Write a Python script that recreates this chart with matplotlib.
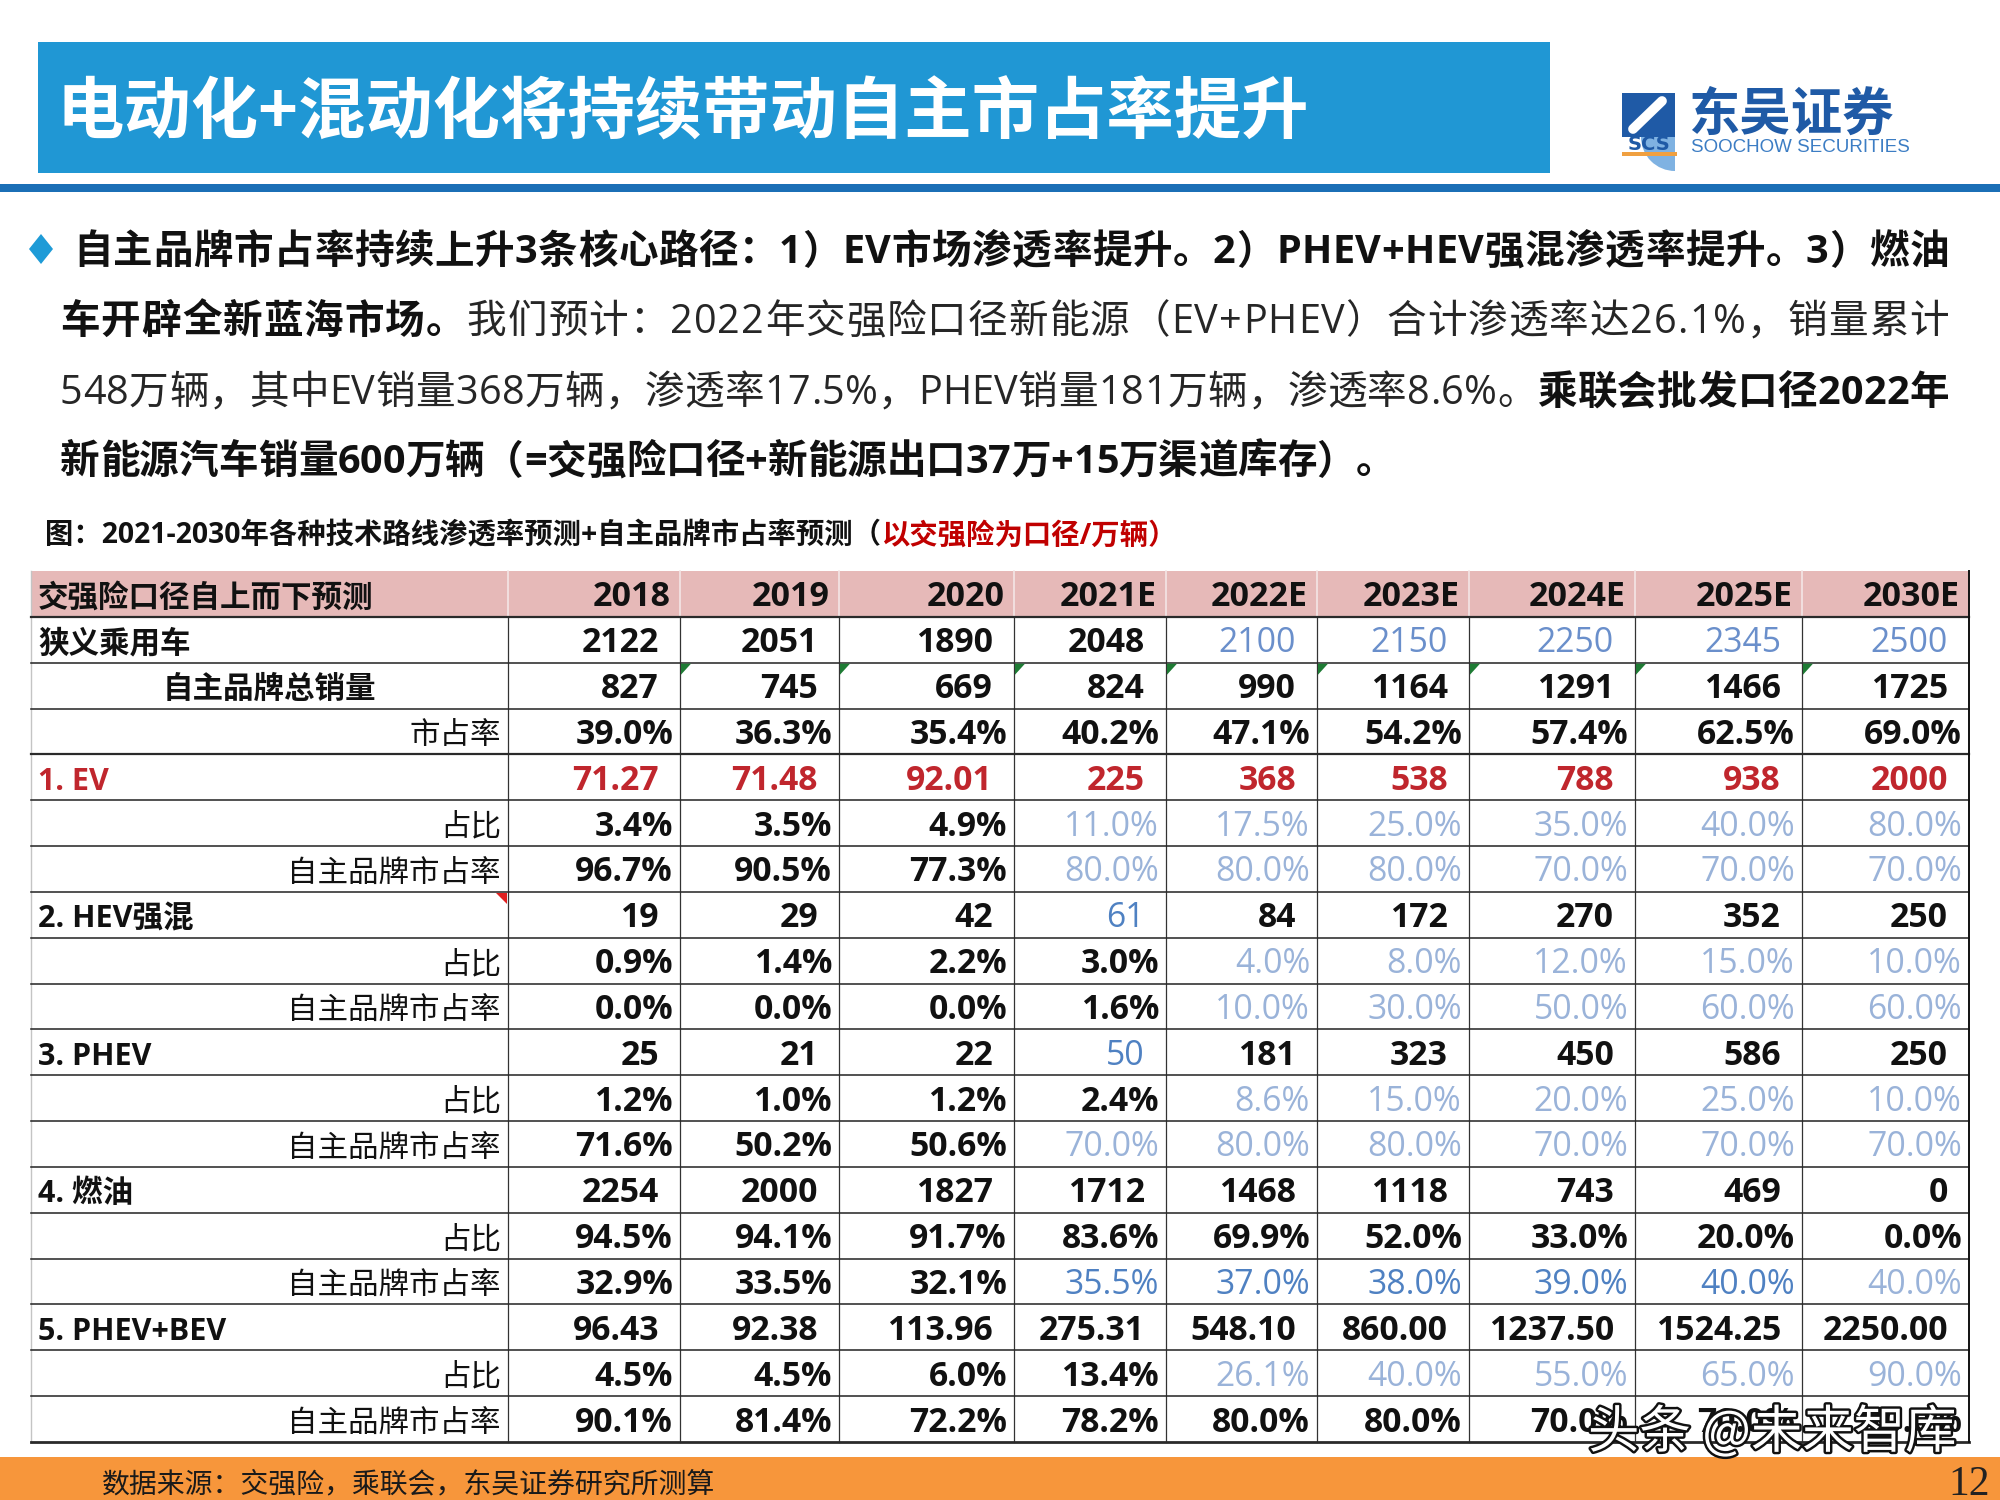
import matplotlib
matplotlib.use('Agg')
import matplotlib.pyplot as plt
from matplotlib.patches import Rectangle, Polygon, Wedge
from matplotlib.font_manager import FontProperties
import matplotlib.patheffects as pe

# ---------------- text content ----------------
title = "电动化+混动化将持续带动自主市占率提升"
caption_black = "图：2021-2030年各种技术路线渗透率预测+自主品牌市占率预测（"
caption_red = "以交强险为口径/万辆）"
source_note = "数据来源：交强险，乘联会，东吴证券研究所测算"
page_number = "12"
watermark = "头条 @未来智库"
logo_cn = "东吴证券"
logo_en = "SOOCHOW SECURITIES"
logo_abbr = "SCS"

body_lines = [
    [("自主品牌市占率持续上升3条核心路径：1）EV市场渗透率提升。2）PHEV+HEV强混渗透率提升。3）燃油", "bold")],
    [("车开辟全新蓝海市场。", "bold"),
     ("我们预计：2022年交强险口径新能源（EV+PHEV）合计渗透率达26.1%，销量累计", "normal")],
    [("548万辆，其中EV销量368万辆，渗透率17.5%，PHEV销量181万辆，渗透率8.6%。", "normal"),
     ("乘联会批发口径2022年", "bold")],
    [("新能源汽车销量600万辆（=交强险口径+新能源出口37万+15万渠道库存）。", "bold")],
]

# ---------------- table data ----------------
header_label = "交强险口径自上而下预测"
years = ["2018", "2019", "2020", "2021E", "2022E", "2023E", "2024E", "2025E", "2030E"]
row_labels = ["狭义乘用车", "自主品牌总销量", "市占率",
              "1. EV", "占比", "自主品牌市占率",
              "2. HEV强混", "占比", "自主品牌市占率",
              "3. PHEV", "占比", "自主品牌市占率",
              "4. 燃油", "占比", "自主品牌市占率",
              "5. PHEV+BEV", "占比", "自主品牌市占率"]

passenger_cars = [2122, 2051, 1890, 2048, 2100, 2150, 2250, 2345, 2500]
own_brand_sales = [827, 745, 669, 824, 990, 1164, 1291, 1466, 1725]
own_brand_share = [39.0, 36.3, 35.4, 40.2, 47.1, 54.2, 57.4, 62.5, 69.0]
ev_sales = [71.27, 71.48, 92.01, 225, 368, 538, 788, 938, 2000]
ev_share = [3.4, 3.5, 4.9, 11.0, 17.5, 25.0, 35.0, 40.0, 80.0]
ev_own_share = [96.7, 90.5, 77.3, 80.0, 80.0, 80.0, 70.0, 70.0, 70.0]
hev_sales = [19, 29, 42, 61, 84, 172, 270, 352, 250]
hev_share = [0.9, 1.4, 2.2, 3.0, 4.0, 8.0, 12.0, 15.0, 10.0]
hev_own_share = [0.0, 0.0, 0.0, 1.6, 10.0, 30.0, 50.0, 60.0, 60.0]
phev_sales = [25, 21, 22, 50, 181, 323, 450, 586, 250]
phev_share = [1.2, 1.0, 1.2, 2.4, 8.6, 15.0, 20.0, 25.0, 10.0]
phev_own_share = [71.6, 50.2, 50.6, 70.0, 80.0, 80.0, 70.0, 70.0, 70.0]
ice_sales = [2254, 2000, 1827, 1712, 1468, 1118, 743, 469, 0]
ice_share = [94.5, 94.1, 91.7, 83.6, 69.9, 52.0, 33.0, 20.0, 0.0]
ice_own_share = [32.9, 33.5, 32.1, 35.5, 37.0, 38.0, 39.0, 40.0, 40.0]
nev_sales = [96.43, 92.38, 113.96, 275.31, 548.10, 860.00, 1237.50, 1524.25, 2250.00]
nev_share = [4.5, 4.5, 6.0, 13.4, 26.1, 40.0, 55.0, 65.0, 90.0]
nev_own_share = [90.1, 81.4, 72.2, 78.2, 80.0, 80.0, 70.0, 70.0, 70.0]

table_rows = [passenger_cars, own_brand_sales, own_brand_share,
              ev_sales, ev_share, ev_own_share,
              hev_sales, hev_share, hev_own_share,
              phev_sales, phev_share, phev_own_share,
              ice_sales, ice_share, ice_own_share,
              nev_sales, nev_share, nev_own_share]

# ---------------- styles ----------------
row_formats = ["int", "int", "pct", "g", "pct", "pct", "int", "pct", "pct",
               "int", "pct", "pct", "int", "pct", "pct", "dec2", "pct", "pct"]
label_styles = ["main", "center", "sub", "main", "sub", "sub", "main", "sub", "sub",
                "main", "sub", "sub", "main", "sub", "sub", "main", "sub", "sub"]
row_color_codes = ["kkkkmmmmm", "kkkkkkkkk", "kkkkkkkkk",
                   "rrrrrrrrr", "kkkllllll", "kkkllllll",
                   "kkkdkkkkk", "kkkklllll", "kkkklllll",
                   "kkkdkkkkk", "kkkklllll", "kkkllllll",
                   "kkkkkkkkk", "kkkkkkkkk", "kkkdddddl",
                   "kkkkkkkkk", "kkkklllll", "kkkkkkkkk"]
code_color = {"k": "#111111", "r": "#C0262D", "m": "#6A8FCB", "l": "#9AB3D9", "d": "#4F81C2"}
code_weight = {"k": "bold", "r": "bold", "m": "normal", "l": "normal", "d": "normal"}

FAM = ['Open Sans', 'Noto Sans CJK SC', 'DejaVu Sans']
CJK = ['Noto Sans CJK SC', 'DejaVu Sans']

W, H = 2000, 1500
fig = plt.figure(figsize=(20, 15), dpi=100)
ax = fig.add_axes([0, 0, 1, 1])
ax.set_xlim(0, W)
ax.set_ylim(H, 0)
ax.axis('off')
renderer = fig.canvas.get_renderer()

_cache = {}
def text_adv(s, fp):
    key = (s, fp.get_weight(), fp.get_size_in_points(), tuple(fp.get_family()))
    if key not in _cache:
        a = renderer.get_text_width_height_descent('中' + s + '中', fp, ismath=False)[0]
        b = renderer.get_text_width_height_descent('中中', fp, ismath=False)[0]
        _cache[key] = a - b
    return _cache[key]

# ---------------- header ----------------
ax.add_patch(Rectangle((38, 42), 1512, 131, color='#2097D4', lw=0))
fp_title = FontProperties(family=CJK, weight='bold', size=48.5)
ax.text(57, 134, title, fontproperties=fp_title, color='white', ha='left', va='baseline')
ax.add_patch(Rectangle((0, 184), W, 8, color='#1B6FB6', lw=0))

# logo
ax.add_patch(Rectangle((1622, 93), 53, 44, color='#1F5AA6', lw=0))
ax.add_patch(Wedge((1675, 137), 34, 90, 180, color='#7FB2E2', lw=0))
ax.plot([1633, 1662], [129, 101], color='white', lw=7, solid_capstyle='round')
ax.plot([1640, 1668], [133, 108], color='#1F5AA6', lw=3, solid_capstyle='round')
ax.text(1688, 114, logo_cn, fontproperties=FontProperties(family=CJK, weight='bold', size=37),
        color='#1F5AA6', ha='left', va='center')
ax.text(1649, 144, logo_abbr, fontproperties=FontProperties(family=['DejaVu Sans'], weight='bold', size=14),
        color='#1F5AA6', ha='center', va='center')
ax.add_patch(Rectangle((1622, 152), 55, 4, color='#F0A040', lw=0))
ax.text(1691, 148, logo_en, fontproperties=FontProperties(family=['Liberation Sans'], size=13.5),
        color='#3C7DC4', ha='left', va='center')

# ---------------- body text ----------------
diamond = Polygon([(41, 234), (53, 249), (41, 264), (29, 249)], closed=True, color='#1E9BD7', lw=0)
ax.add_patch(diamond)
line_centers = [248, 318, 389, 458]
line_starts = [73, 60, 60, 60]
right_edge = 1949
BODY_SIZE = 28.5
for li, segs in enumerate(body_lines):
    chars = []
    for s, wt in segs:
        fp = FontProperties(family=FAM, weight=wt, size=BODY_SIZE)
        col = '#111111' if wt == 'bold' else '#262626'
        for ch in s:
            chars.append((ch, fp, col))
    advs = [text_adv(ch, fp) for ch, fp, col in chars]
    total = sum(advs)
    x = line_starts[li]
    if li < 3:
        extra = (right_edge - x - total) / (len(chars) - 1)
    else:
        extra = 0.0
    base = line_centers[li] + 0.38 * BODY_SIZE * 100 / 72
    for (ch, fp, col), a in zip(chars, advs):
        ax.text(x, base, ch, fontproperties=fp, color=col, ha='left', va='baseline')
        x += a + extra

# caption
fp_cap = FontProperties(family=FAM, weight='bold', size=20.4)
cap_base = 533 + 0.38 * 20.4 * 100 / 72
ax.text(45, cap_base, caption_black, fontproperties=fp_cap, color='#111111', ha='left', va='baseline')
ax.text(45 + text_adv(caption_black, fp_cap), cap_base, caption_red, fontproperties=fp_cap,
        color='#C00000', ha='left', va='baseline')

# ---------------- table ----------------
col_edges = [31, 508, 680, 839, 1014, 1166, 1317, 1469, 1635, 1802, 1969]
y0 = 571.0
rh = 45.84
n_rows = len(row_labels) + 1
y_bottom = y0 + n_rows * rh

ax.add_patch(Rectangle((col_edges[0], y0), col_edges[-1] - col_edges[0], rh, color='#E6B9B8', lw=0, zorder=0))

def fmt(v, f):
    if f == "pct":
        return f"{v:.1f}%"
    if f == "dec2":
        return f"{v:.2f}"
    if f == "g":
        return f"{v:g}"
    return f"{int(v)}"

fp_lab_b = FontProperties(family=FAM, weight='bold', size=22)
fp_lab_n = FontProperties(family=FAM, weight='normal', size=22)
fp_year = FontProperties(family=FAM, weight='bold', size=24.5)

hb = y0 + rh / 2 + 12.5
ax.text(38, hb, header_label, fontproperties=fp_lab_b, color='#111111', ha='left', va='baseline')
for j, yl in enumerate(years):
    ax.text(col_edges[j + 2] - 9, hb, yl, fontproperties=fp_year, color='#111111', ha='right', va='baseline')

for i, (lab, vals) in enumerate(zip(row_labels, table_rows)):
    top = y0 + (i + 1) * rh
    base = top + rh / 2 + 12.5
    st = label_styles[i]
    lab_col = code_color['r'] if set(row_color_codes[i]) == {'r'} else '#111111'
    if st == "main":
        ax.text(38, base, lab, fontproperties=fp_lab_b, color=lab_col, ha='left', va='baseline')
    elif st == "center":
        ax.text((col_edges[0] + col_edges[1]) / 2, base, lab, fontproperties=fp_lab_b,
                color=lab_col, ha='center', va='baseline')
    else:
        ax.text(col_edges[1] - 7, base, lab, fontproperties=fp_lab_n, color=lab_col, ha='right', va='baseline')
    for j, v in enumerate(vals):
        code = row_color_codes[i][j]
        fp = FontProperties(family=FAM, weight=code_weight[code], size=24.3)
        pad = 7 if row_formats[i] == "pct" else 21
        ax.text(col_edges[j + 2] - pad, base, fmt(v, row_formats[i]), fontproperties=fp,
                color=code_color[code], ha='right', va='baseline')

# grid lines
for k in range(1, n_rows + 1):
    yk = y0 + k * rh
    lw = 1.6 if k in (1, 4) else 1.15
    if k == n_rows:
        lw = 2.0
    ax.plot([col_edges[0], col_edges[-1]], [yk, yk], color='#2a2a2a', lw=lw, zorder=3)
for xe in col_edges[1:-1]:
    ax.plot([xe, xe], [y0, y0 + rh], color='#F4E6E6', lw=1.2, zorder=2)
    ax.plot([xe, xe], [y0 + rh, y_bottom], color='#333333', lw=0.9, zorder=2)
ax.plot([col_edges[-1], col_edges[-1]], [y0, y_bottom], color='#111111', lw=1.4, zorder=3)
ax.plot([col_edges[0], col_edges[0]], [y0, y_bottom], color='#C4C4C4', lw=1.0, zorder=2)

# cell indicators (green error triangles, red comment triangle)
tri_top = y0 + 2 * rh + 1
for xe in col_edges[2:-1]:
    ax.add_patch(Polygon([(xe + 1, tri_top), (xe + 11, tri_top), (xe + 1, tri_top + 11)],
                         closed=True, color='#1E7B34', lw=0, zorder=4))
rt = y0 + 7 * rh + 1
ax.add_patch(Polygon([(col_edges[1] - 12, rt), (col_edges[1] - 1, rt), (col_edges[1] - 1, rt + 11)],
                     closed=True, color='#E02020', lw=0, zorder=4))

# ---------------- footer ----------------
ax.add_patch(Rectangle((0, 1457), W, 43, color='#F7963B', lw=0))
ax.text(102, 1482 + 0.38 * 20.1 * 100 / 72, source_note, fontproperties=FontProperties(family=CJK, size=20.1),
        color='#1a1a1a', ha='left', va='baseline')
ax.text(1990, 1495, page_number, fontproperties=FontProperties(family=['Liberation Serif'], size=30),
        color='#222222', ha='right', va='baseline')

# watermark
ax.text(1588, 1433, watermark, fontproperties=FontProperties(family=CJK, size=37),
        color='white', ha='left', va='center', zorder=10,
        path_effects=[pe.withStroke(linewidth=3.5, foreground='#111111')])

fig.savefig('out.png', dpi=100)
